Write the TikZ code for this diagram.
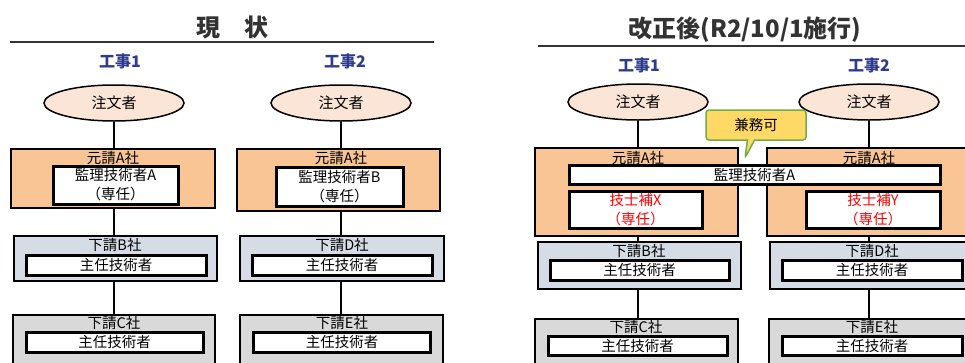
\documentclass[tikz,border=0pt]{standalone}
\usepackage{fontspec}
\setmainfont{Noto Sans CJK JP}
\usetikzlibrary{shapes.geometric,shapes.callouts}
\definecolor{orangebox}{HTML}{F9C595}
\definecolor{peach}{HTML}{FBE5D6}
\definecolor{bluegrey}{HTML}{D6DCE5}
\definecolor{greybox}{HTML}{D9D9D9}
\definecolor{navy}{HTML}{2F3C8E}
\definecolor{calloutfill}{HTML}{FFD966}
\definecolor{calloutline}{HTML}{70AD47}
\definecolor{titlegrey}{HTML}{333333}
\tikzset{
  orgbox/.style={draw=black, line width=1.5pt, fill=orangebox, inner sep=0pt},
  subbox/.style={draw=black, line width=1.5pt, fill=bluegrey, inner sep=0pt},
  sub2box/.style={draw=black, line width=1.5pt, fill=greybox, inner sep=0pt},
  whitebox/.style={draw=black, line width=3pt, fill=white, inner sep=0pt, align=center, font=\fontsize{14.5}{19}\selectfont},
  client/.style={ellipse, draw=black, line width=1.5pt, fill=peach, inner sep=0pt, minimum width=140pt, minimum height=36pt, font=\fontsize{15}{17}\selectfont},
  lbl/.style={inner sep=0pt, font=\fontsize{14.5}{16}\selectfont},
  proj/.style={inner sep=0pt, text=navy, font=\bfseries\fontsize{16}{18}\selectfont},
  ttl/.style={inner sep=0pt, text=titlegrey, font=\bfseries\fontsize{24}{26}\selectfont},
  conn/.style={line width=1.5pt, draw=black},
  rule/.style={line width=2pt, draw=titlegrey}
}
\begin{document}
\begin{tikzpicture}[x=1pt,y=-1pt]
\useasboundingbox (0,0) rectangle (965,362);
\clip (0,0) rectangle (965,362);

% ===== Left panel =====
\node[ttl] (t1) at (232,27) {現\hspace{1em}状};
\coordinate (r1a) at (10,42); \coordinate (r1b) at (434,42);
\draw[rule] (r1a) -- (r1b);
\node[proj] (p11) at (120,61) {工事1};
\node[proj] (p12) at (345,61) {工事2};

\node[client] (c11) at (114,103) {注文者};
\node[client] (c12) at (341,103) {注文者};

\node[orgbox, minimum width=204pt, minimum height=59pt] (o11) at (113,178.5) {};
\node[lbl] (o11t) at (113,158) {元請A社};
\node[whitebox, minimum width=125pt, minimum height=38pt] (m11) at (115.5,185) {監理技術者A\\（専任）};

\node[orgbox, minimum width=203pt, minimum height=62pt] (o12) at (338.5,180) {};
\node[lbl] (o12t) at (341,158) {元請A社};
\node[whitebox, minimum width=127pt, minimum height=39pt] (m12) at (339.5,186.5) {監理技術者B\\（専任）};

\node[subbox, minimum width=203pt, minimum height=45pt] (b11) at (115.5,258.5) {};
\node[lbl] (b11t) at (115,245) {下請B社};
\node[whitebox, minimum width=180pt, minimum height=20pt] (s11) at (116,265) {主任技術者};

\node[subbox, minimum width=204pt, minimum height=45pt] (b12) at (342,258.5) {};
\node[lbl] (b12t) at (342,245) {下請D社};
\node[whitebox, minimum width=180pt, minimum height=20pt] (s12) at (342,265) {主任技術者};

\node[sub2box, minimum width=202pt, minimum height=60pt] (b13) at (114,345) {};
\node[lbl] (b13t) at (114,323) {下請C社};
\node[whitebox, minimum width=177pt, minimum height=20pt] (s13) at (114.5,342) {主任技術者};

\node[sub2box, minimum width=203pt, minimum height=60pt] (b14) at (341.5,345) {};
\node[lbl] (b14t) at (342,323) {下請E社};
\node[whitebox, minimum width=177pt, minimum height=20pt] (s14) at (342,342) {主任技術者};

\draw[conn] (c11.south) -- (c11.south |- o11.north);
\draw[conn] (c12.south) -- (c12.south |- o12.north);
\draw[conn] (o11.south -| c11.south) -- (b11.north -| c11.south);
\draw[conn] (o12.south -| c12.south) -- (b12.north -| c12.south);
\draw[conn] (b11.south -| c11.south) -- (b13.north -| c11.south);
\draw[conn] (b12.south -| c12.south) -- (b14.north -| c12.south);

% ===== Right panel =====
\node[ttl] (t2) at (745,30) {改正後(R2/10/1施行)};
\coordinate (r2a) at (538,46); \coordinate (r2b) at (965,46);
\draw[rule] (r2a) -- (r2b);
\node[proj] (p21) at (639,65) {工事1};
\node[proj] (p22) at (869,65) {工事2};

\node[client] (c21) at (638,102) {注文者};
\node[client] (c22) at (869,102) {注文者};

\node[orgbox, minimum width=203pt, minimum height=88pt] (o21) at (636.5,192) {};
\node[lbl] (o21t) at (638,158) {元請A社};
\node[orgbox, minimum width=220pt, minimum height=88pt] (o22) at (877,192) {};
\node[lbl] (o22t) at (869,158) {元請A社};

\node[whitebox, minimum width=371pt, minimum height=19pt] (m2) at (754.5,174.5) {監理技術者A};
\node[whitebox, minimum width=133pt, minimum height=37pt, text=red] (x2) at (635.5,210) {技士補X\\（専任）};
\node[whitebox, minimum width=134pt, minimum height=37pt, text=red] (y2) at (873,210) {技士補Y\\（専任）};

\node[rectangle callout, draw=calloutline, line width=1.5pt, fill=calloutfill, rounded corners=3pt,
      minimum width=100pt, minimum height=30pt, inner sep=0pt,
      callout absolute pointer={(745,158)}, font=\fontsize{14.5}{16}\selectfont] (k) at (756,125) {兼務可};

\node[subbox, minimum width=203pt, minimum height=47pt] (b21) at (639.5,265.5) {};
\node[lbl] (b21t) at (639,251) {下請B社};
\node[whitebox, minimum width=179pt, minimum height=20pt] (s21) at (639.5,270) {主任技術者};

\node[subbox, minimum width=205pt, minimum height=47pt] (b22) at (872.5,265.5) {};
\node[lbl] (b22t) at (872,251) {下請D社};
\node[whitebox, minimum width=180pt, minimum height=20pt] (s22) at (872,270) {主任技術者};

\node[sub2box, minimum width=203pt, minimum height=60pt] (b23) at (636.5,349) {};
\node[lbl] (b23t) at (636,327) {下請C社};
\node[whitebox, minimum width=179pt, minimum height=19pt] (s23) at (637.5,346) {主任技術者};

\node[sub2box, minimum width=205pt, minimum height=60pt] (b24) at (871.5,349) {};
\node[lbl] (b24t) at (872,327) {下請E社};
\node[whitebox, minimum width=180pt, minimum height=19pt] (s24) at (872,346) {主任技術者};

\draw[conn] (c21.south) -- (c21.south |- o21.north);
\draw[conn] (c22.south) -- (c22.south |- o22.north);
\draw[conn] (o21.south -| c21.south) -- (b21.north -| c21.south);
\draw[conn] (o22.south -| c22.south) -- (b22.north -| c22.south);
\draw[conn] (b21.south -| c21.south) -- (b23.north -| c21.south);
\draw[conn] (b22.south -| c22.south) -- (b24.north -| c22.south);
\end{tikzpicture}
\end{document}
